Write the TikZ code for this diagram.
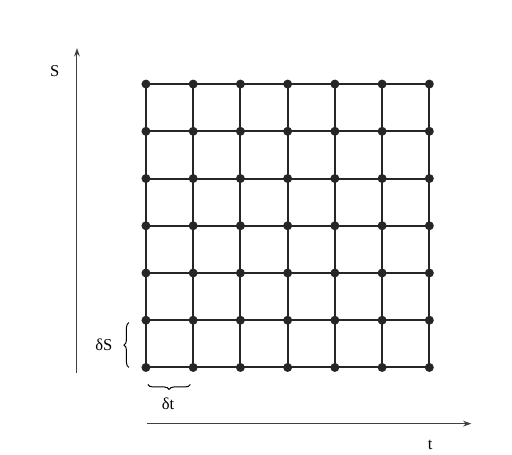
\documentclass[tikz,border=0pt]{standalone}
\usepackage{fontspec}
\setmainfont{Liberation Serif}
\usetikzlibrary{positioning,decorations.pathreplacing,arrows.meta}

\begin{document}
\begin{tikzpicture}[x=1cm,y=1cm]
  \tikzstyle{dot}=[circle,fill=black!85,inner sep=0pt,minimum size=0.19cm]
  \tikzstyle{gridline}=[line width=1.2pt,black!85]
  \tikzstyle{axis}=[line width=0.6pt,black!75,-{Stealth[length=5pt,width=3.5pt]}]
  \tikzstyle{brc}=[line width=0.6pt,decorate,decoration={brace,amplitude=3pt}]
  \useasboundingbox (-3.09,-1.84) rectangle (7.75,7.78);
  % mesh points
  \foreach \i in {0,...,6}
    \foreach \j in {0,...,6}
      \node[dot] (p\i\j) at (\i,\j) {};
  \foreach \i in {0,...,6} {
    \draw[gridline] (p\i0.center) -- (p\i6.center);
    \draw[gridline] (p0\i.center) -- (p6\i.center);
  }
  % axes
  \coordinate (s0) at (-1.46,-0.11);
  \coordinate (s1) at (-1.46,6.76);
  \coordinate (t0) at (0.02,-1.19);
  \coordinate (t1) at (6.89,-1.19);
  \draw[axis] (s0) -- (s1);
  \draw[axis] (t0) -- (t1);
  \node (slabel) at (-1.93,6.27) {S};
  \node (tlabel) at (6.02,-1.65) {t};
  % step sizes
  \coordinate (ds0) at (-0.36,0.0);
  \coordinate (ds1) at (-0.36,0.95);
  \coordinate (dt0) at (0.04,-0.36);
  \coordinate (dt1) at (0.94,-0.36);
  \draw[brc] (ds0) -- (ds1);
  \draw[brc,decoration={mirror}] (dt0) -- (dt1);
  \node (dslabel) at (-0.89,0.47) {δS};
  \node (dtlabel) at (0.47,-0.76) {δt};
\end{tikzpicture}
\end{document}
